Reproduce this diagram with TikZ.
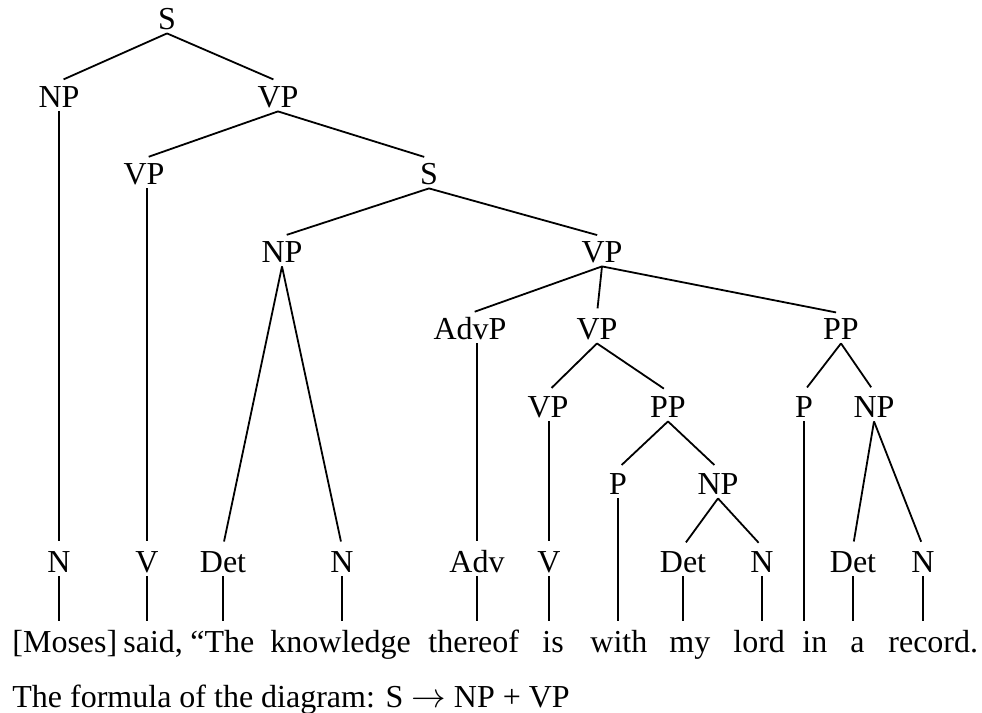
\documentclass[tikz,border=0pt]{standalone}
\usepackage{fontspec}
\setmainfont{Liberation Serif}
\tikzset{
  cat/.style={anchor=base,inner xsep=0pt,inner ysep=2pt,text height=10.6pt,text depth=0pt},
  word/.style={cat,anchor=base west},
  branch/.style={line width=0.9pt,shorten >=2.5pt}
}
\begin{document}
\begin{tikzpicture}[x=0.5pt,y=-0.5pt,every node/.style={font=\fontsize{16}{19}\selectfont}]
\useasboundingbox (0,0) rectangle (982,713);

% categories, level by level
\node[cat] (s) at (167,29) {S};
\node[cat] (np) at (59,107) {NP};
\node[cat] (vp) at (278,107) {VP};
\node[cat] (vpa) at (144,184) {VP};
\node[cat] (sa) at (429,184) {S};
\node[cat] (npa) at (282,262) {NP};
\node[cat] (vpb) at (602,262) {VP};
\node[cat] (advp) at (470,339) {AdvP};
\node[cat] (vpc) at (597,339) {VP};
\node[cat] (ppa) at (841,339) {PP};
\node[cat] (vpd) at (548,417) {VP};
\node[cat] (ppb) at (668,417) {PP};
\node[cat] (pa) at (804,417) {P};
\node[cat] (npb) at (874,417) {NP};
\node[cat] (pb) at (618,494) {P};
\node[cat] (npc) at (718,494) {NP};

% leaves
\node[cat] (nA) at (59,572) {N};
\node[cat] (vA) at (147,572) {V};
\node[cat] (detA) at (223,572) {Det};
\node[cat] (nB) at (342,572) {N};
\node[cat] (adv) at (477,572) {Adv};
\node[cat] (vB) at (549,572) {V};
\node[cat] (detB) at (683,572) {Det};
\node[cat] (nC) at (762,572) {N};
\node[cat] (detC) at (853,572) {Det};
\node[cat] (nD) at (923,572) {N};

% the sentence
\node[word] (w1) at (12,652) {[Moses]};
\node[word] (w2) at (123,652) {said,};
\node[word] (w3) at (190,652) {“The};
\node[word] (w4) at (270,652) {knowledge};
\node[word] (w5) at (428,652) {thereof};
\node[word] (w6) at (542,652) {is};
\node[word] (w7) at (590,652) {with};
\node[word] (w8) at (669,652) {my};
\node[word] (w9) at (733,652) {lord};
\node[word] (w10) at (802,652) {in};
\node[word] (w11) at (850,652) {a};
\node[word] (w12) at (888,652) {record.};

\node[word] (formula) at (12,707) {The formula of the diagram: S $\rightarrow$ NP + VP};

% branches
\draw[branch] (s.south) -- (np.north);
\draw[branch] (s.south) -- (vp.north);
\draw[branch] (np.south) -- (nA.north);
\draw[branch] (vp.south) -- (vpa.north);
\draw[branch] (vp.south) -- (sa.north);
\draw[branch] (vpa.south -| vA.north) -- (vA.north);
\draw[branch] (sa.south) -- (npa.north);
\draw[branch] (sa.south) -- (vpb.north);
\draw[branch] (npa.south) -- (detA.north);
\draw[branch] (npa.south) -- (nB.north);
\draw[branch] (vpb.south) -- (advp.north);
\draw[branch] (vpb.south) -- (vpc.north);
\draw[branch] (vpb.south) -- (ppa.north);
\draw[branch] (advp.south -| adv.north) -- (adv.north);
\draw[branch] (vpc.south) -- (vpd.north);
\draw[branch] (vpc.south) -- (ppb.north);
\draw[branch] (vpd.south -| vB.north) -- (vB.north);
\draw[branch] (ppb.south) -- (pb.north);
\draw[branch] (ppb.south) -- (npc.north);
\draw[branch] (pb.south) -- (pb.south |- w7.north);
\draw[branch] (npc.south) -- (detB.north);
\draw[branch] (npc.south) -- (nC.north);
\draw[branch] (ppa.south) -- (pa.north);
\draw[branch] (ppa.south) -- (npb.north);
\draw[branch] (pa.south) -- (pa.south |- w10.north);
\draw[branch] (npb.south) -- (detC.north);
\draw[branch] (npb.south) -- (nD.north);

% leaves down to the words
\foreach \l/\w in {nA/w1,vA/w2,detA/w3,nB/w4,adv/w5,vB/w6,detB/w8,nC/w9,detC/w11,nD/w12}
  \draw[branch] (\l.south) -- (\l.south |- \w.north);
\end{tikzpicture}
\end{document}
